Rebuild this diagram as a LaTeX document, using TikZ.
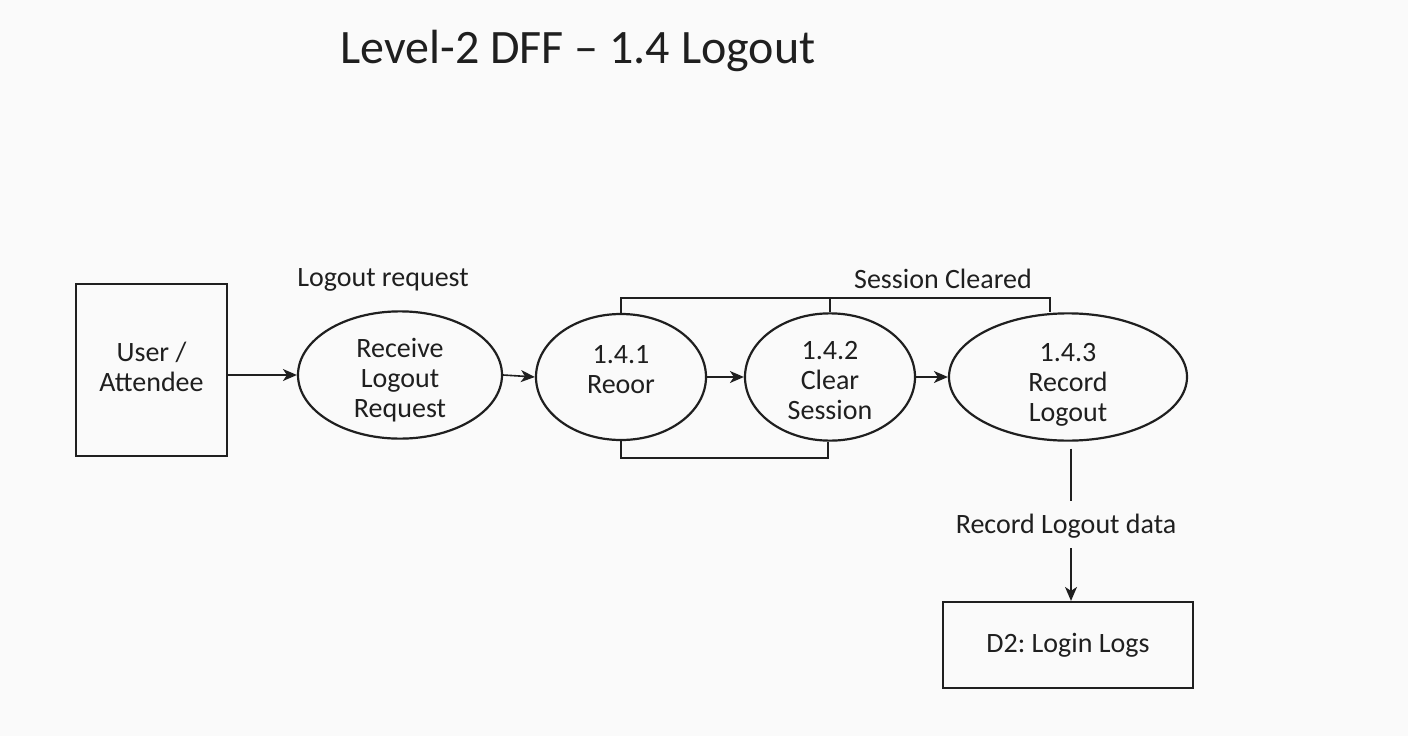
\documentclass[tikz,border=0pt]{standalone}
\usepackage{fontspec}
\setmainfont{Carlito}
\usetikzlibrary{shapes.geometric,arrows.meta}
\newcommand\txtl[2]{\raisebox{#1}[\height][\depth]{\begin{tabular}{@{}c@{}}#2\end{tabular}}}
\begin{document}
\frenchspacing
\begin{tikzpicture}[x=1pt,y=-1pt,
  every node/.style={font=\fontsize{28}{30}\selectfont, text=black!88},
  proc/.style={ellipse, draw=black!88, line width=2.2pt, inner sep=0pt, align=center},
  ent/.style={rectangle, draw=black!88, line width=2.2pt, inner sep=0pt, align=center},
  flow/.style={draw=black!88, line width=1.6pt},
  arr/.style={flow, -{Stealth[length=14pt,width=12pt,inset=4pt]}},
  lbl/.style={inner sep=0pt}]
\fill[black!2] (0,0) rectangle (1408,736);
\useasboundingbox (0,0) rectangle (1408,736);

\node[lbl, font=\fontsize{48}{56}\selectfont] (title) at (578,51) {Level-2 DFF -- 1.4 Logout};

\node[ent, minimum width=151pt, minimum height=172pt] (user) at (151.5,370) {\txtl{0pt}{User /\\Attendee}};
\node[proc, minimum width=204pt, minimum height=124pt] (rcv) at (400,375) {\txtl{-6pt}{Receive\\Logout\\Request}};
\node[proc, minimum width=170pt, minimum height=126pt] (p1) at (621,377) {\txtl{5pt}{1.4.1\\Reoor}};
\node[proc, minimum width=170pt, minimum height=126pt] (p2) at (830,377) {\txtl{-6pt}{1.4.2\\Clear\\Session}};
\node[proc, minimum width=238pt, minimum height=126pt] (p3) at (1068,377) {\txtl{-8pt}{1.4.3\\Record\\Logout}};
\node[ent, minimum width=250pt, minimum height=86pt] (d2) at (1068,645) {D2: Login Logs};

\node[lbl] (l1) at (383,280) {Logout request};
\node[lbl] (l2) at (943,279) {Session Cleared};
\node[lbl] (l3) at (1066,526) {Record Logout data};

\draw[arr] (user.east |- rcv.west) -- (rcv.west);
\draw[arr] (rcv.east) -- (p1.west);
\draw[arr] (p1.east) -- (p2.west);
\draw[arr] (p2.east) -- (p3.west);

\coordinate (t3) at (1050,298);
\draw[flow] (p1.north) |- (t3) -- (t3 |- p3.north);
\draw[flow] (p2.north) -- (p2.north |- t3);
\coordinate (b2) at (828,458);
\draw[flow] (p1.south) |- (b2) -- (b2 |- p2.south);

\coordinate (g1) at (1071,501);
\coordinate (g2) at (1071,548);
\draw[flow, shorten <=7pt] (p3.south -| g1) -- (g1);
\draw[arr] (g2) -- (d2.north -| g2);
\end{tikzpicture}
\end{document}
